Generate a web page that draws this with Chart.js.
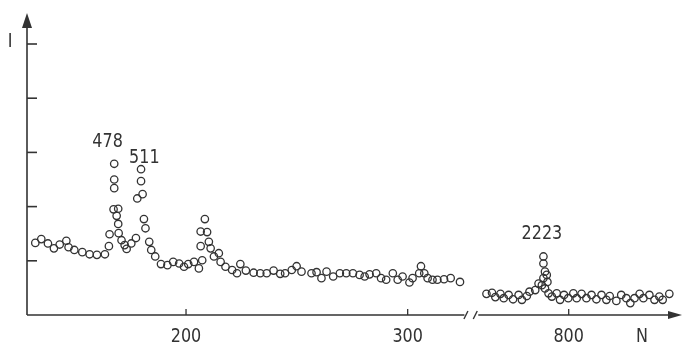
<!DOCTYPE html>
<html lang="en">
<head>
<meta charset="UTF-8">
<title>Intensity vs N</title>
<script src="https://cdn.jsdelivr.net/npm/chart.js"></script>
<style>
  body { margin: 0; background: #fff; }
  #chart { display: block; }
</style>
</head>
<body>
<canvas id="chart" width="687" height="344"></canvas>
<script>
// low range, N 130-325
const lowN = [132.0, 134.7, 137.7, 140.4, 143.0, 146.0, 147.0, 149.6, 153.2, 156.5,
              159.8, 163.4, 165.2, 165.5, 167.3, 167.6, 167.6, 167.6, 169.4, 168.7,
              169.4, 169.6, 170.9, 172.3, 173.2, 175.3, 177.4, 178.0, 179.7, 179.7,
              180.4, 181.0, 181.7, 183.4, 184.3, 186.1, 188.7, 191.6, 194.2, 196.9,
              199.1, 201.0, 203.6, 205.8, 206.6, 206.6, 207.3, 208.5, 209.5, 210.3,
              211.1, 212.6, 214.8, 215.6, 217.8, 220.8, 223.0, 224.5, 227.0, 230.5,
              233.5, 236.4, 239.5, 242.5, 244.7, 247.7, 249.9, 252.1, 256.6, 258.9,
              261.1, 263.4, 266.4, 269.4, 272.3, 275.3, 278.3, 280.6, 282.8, 285.8,
              288.0, 290.3, 293.3, 295.5, 297.7, 300.8, 302.2, 305.2, 306.0, 307.5,
              309.0, 311.2, 313.4, 316.4, 319.4, 323.6];
const lowI = [1.33, 1.40, 1.32, 1.23, 1.30, 1.37, 1.25, 1.20, 1.16, 1.12,
              1.11, 1.12, 1.27, 1.49, 1.95, 2.34, 2.50, 2.79, 1.96, 1.83,
              1.68, 1.51, 1.38, 1.29, 1.22, 1.32, 1.42, 2.15, 2.47, 2.69,
              2.23, 1.77, 1.60, 1.35, 1.20, 1.08, 0.94, 0.92, 0.98, 0.95,
              0.89, 0.94, 0.98, 0.86, 1.27, 1.54, 1.01, 1.77, 1.53, 1.35,
              1.23, 1.08, 1.14, 0.98, 0.89, 0.83, 0.77, 0.94, 0.82, 0.78,
              0.77, 0.77, 0.82, 0.76, 0.77, 0.83, 0.90, 0.80, 0.77, 0.79,
              0.68, 0.80, 0.71, 0.77, 0.77, 0.77, 0.74, 0.71, 0.75, 0.77,
              0.68, 0.65, 0.77, 0.65, 0.71, 0.60, 0.68, 0.77, 0.90, 0.77,
              0.68, 0.65, 0.65, 0.66, 0.68, 0.61];
// high range, N 760-850
const highN = [762.9, 765.4, 766.9, 769.2, 770.7, 772.9, 774.9, 777.4, 778.9, 781.1,
               782.3, 784.9, 786.4, 787.9, 788.6, 788.6, 788.6, 789.3, 790.1, 790.4,
               789.3, 790.9, 792.4, 794.6, 796.1, 797.9, 799.8, 802.1, 803.6, 805.8,
               808.0, 810.3, 812.5, 814.8, 817.0, 818.5, 821.5, 823.7, 826.0, 827.8,
               829.7, 832.0, 833.7, 836.4, 838.7, 840.9, 842.4, 845.4];
const highI = [0.39, 0.41, 0.33, 0.39, 0.31, 0.37, 0.29, 0.37, 0.28, 0.35,
               0.43, 0.46, 0.58, 0.55, 0.68, 0.95, 1.08, 0.80, 0.74, 0.61,
               0.49, 0.40, 0.34, 0.40, 0.28, 0.37, 0.31, 0.40, 0.31, 0.39,
               0.31, 0.37, 0.29, 0.37, 0.28, 0.35, 0.26, 0.37, 0.31, 0.22,
               0.31, 0.39, 0.31, 0.37, 0.28, 0.34, 0.28, 0.39];

const xTicks = [200, 300, 800];
const yTicks = [1, 2, 3, 4, 5];
const peakLabels = ['478', '511', '2223'];
const peakN = [164.6, 181.2, 787.9];
const peakI = [3.10, 2.80, 1.40];

// broken axis: everything above the break is slid left by SHIFT
const BREAK_LOW = 325.6, BREAK_HIGH = 759.2, SHIFT = 427.35;
const toAxis = n => n > BREAK_LOW ? n - SHIFT : n;

const ink = '#333';
const font = "20px 'DejaVu Sans', sans-serif";

const points = lowN.map((n, i) => ({ x: toAxis(n), y: lowI[i] }))
  .concat(highN.map((n, i) => ({ x: toAxis(n), y: highI[i] })));

// the original lettering is a narrow stencil face, squeeze it a bit
function narrowText(ctx, text, x, y) {
  ctx.save();
  ctx.translate(x, y);
  ctx.scale(0.8, 1);
  ctx.fillText(text, 0, 0);
  ctx.restore();
}

// axes drawn by hand: arrows, inward ticks, break marks
const handAxes = {
  id: 'handAxes',
  afterDatasetsDraw(chart) {
    const { ctx, chartArea: a, scales: { x, y } } = chart;
    const x0 = a.left;
    const y0 = y.getPixelForValue(0);
    ctx.save();
    ctx.strokeStyle = ink;
    ctx.fillStyle = ink;
    ctx.lineWidth = 1.6;

    // y axis
    ctx.beginPath();
    ctx.moveTo(x0, y0);
    ctx.lineTo(x0, a.top + 12);
    ctx.stroke();
    ctx.beginPath();
    ctx.moveTo(x0, a.top);
    ctx.lineTo(x0 - 5, a.top + 15);
    ctx.lineTo(x0 + 5, a.top + 15);
    ctx.closePath();
    ctx.fill();
    yTicks.forEach(v => {
      const p = y.getPixelForValue(v);
      ctx.beginPath();
      ctx.moveTo(x0, p);
      ctx.lineTo(x0 + 10, p);
      ctx.stroke();
    });

    // x axis in two pieces
    const bl = x.getPixelForValue(BREAK_LOW);
    const bh = x.getPixelForValue(toAxis(BREAK_HIGH));
    ctx.beginPath();
    ctx.moveTo(x0, y0);
    ctx.lineTo(bl, y0);
    ctx.moveTo(bh, y0);
    ctx.lineTo(a.right - 10, y0);
    ctx.stroke();
    ctx.beginPath();
    ctx.moveTo(a.right, y0);
    ctx.lineTo(a.right - 14, y0 - 4);
    ctx.lineTo(a.right - 14, y0 + 4);
    ctx.closePath();
    ctx.fill();

    ctx.lineWidth = 1.4;
    [bl + 1.5, bh - 3].forEach(s => {
      ctx.beginPath();
      ctx.moveTo(s - 2, y0 + 4);
      ctx.lineTo(s + 2, y0 - 4);
      ctx.stroke();
    });

    // x ticks and labels
    ctx.lineWidth = 1.3;
    ctx.font = font;
    ctx.textAlign = 'center';
    ctx.textBaseline = 'alphabetic';
    xTicks.forEach(v => {
      const p = x.getPixelForValue(toAxis(v));
      ctx.beginPath();
      ctx.moveTo(p, y0);
      ctx.lineTo(p, y0 - 6);
      ctx.stroke();
      narrowText(ctx, String(v), p, y0 + 27);
    });
    narrowText(ctx, 'N', a.right - 40, y0 + 27);
    narrowText(ctx, 'I', x0 - 17, y.getPixelForValue(5) + 3);

    // peak labels
    peakLabels.forEach((t, i) => {
      narrowText(ctx, t, x.getPixelForValue(toAxis(peakN[i])), y.getPixelForValue(peakI[i]));
    });
    ctx.restore();
  }
};

new Chart(document.getElementById('chart').getContext('2d'), {
  type: 'scatter',
  data: {
    datasets: [{
      data: points,
      pointRadius: 3.7,
      pointHoverRadius: 3.7,
      borderWidth: 1.3,
      borderColor: ink,
      backgroundColor: 'rgba(0,0,0,0)'
    }]
  },
  options: {
    responsive: false,
    animation: false,
    layout: { padding: { left: 27, right: 1, top: 13, bottom: 29 } },
    plugins: { legend: { display: false }, tooltip: { enabled: false } },
    scales: {
      x: { type: 'linear', display: false, min: 128.25, max: 423.77 },
      y: { display: false, min: 0, max: 5.572 }
    }
  },
  plugins: [handAxes]
});
</script>
</body>
</html>
